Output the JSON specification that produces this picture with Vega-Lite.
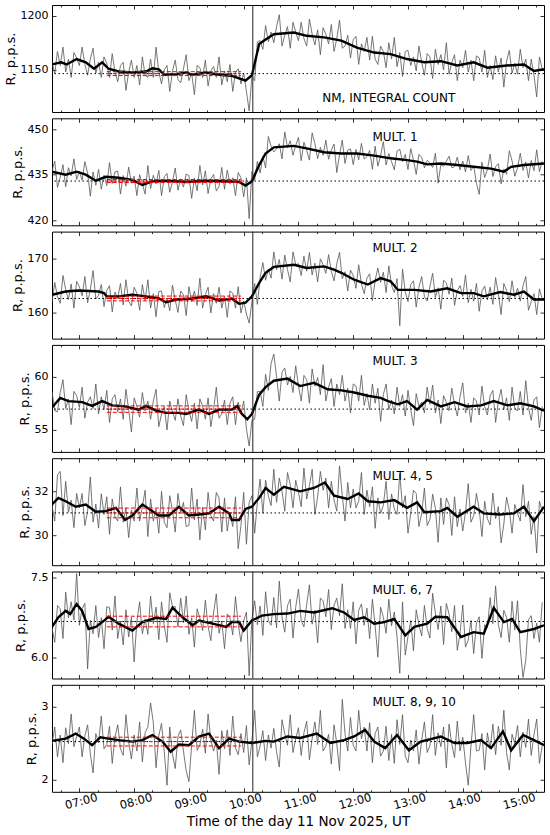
{
  "$schema": "https://vega.github.io/schema/vega-lite/v6.json",
  "padding": {"left": 3, "top": 4, "right": 5, "bottom": 2},
  "spacing": 4.3,
  "config": {
    "font": "DejaVu Sans",
    "view": {"stroke": "black", "strokeWidth": 1},
    "axis": {
      "domain": false, "grid": false, "ticks": true,
      "tickColor": "black", "tickSize": -4, "tickWidth": 0.8,
      "labelFont": "DejaVu Sans", "labelFontSize": 11, "labelColor": "black", "labelPadding": 8,
      "titleFont": "DejaVu Sans", "titleFontSize": 13, "titleFontWeight": "normal", "titleColor": "black", "titlePadding": 3
    },
    "text": {"font": "DejaVu Sans", "color": "black"}
  },
  "datasets": {
    "raw": [
      {"t":390,"a":1157,"b":436.2,"c":162.0,"d":58.6,"e":31.35,"f":6.55,"g":2.48},
      {"t":393,"a":1147,"b":439.5,"c":165.6,"d":56.8,"e":30.65,"f":6.28,"g":2.72},
      {"t":396,"a":1167,"b":430.8,"c":162.9,"d":56.7,"e":32.75,"f":6.97,"g":2.31},
      {"t":399,"a":1154,"b":434.1,"c":161.7,"d":58.5,"e":32.9,"f":6.91,"g":2.61},
      {"t":402,"a":1171,"b":438.3,"c":166.9,"d":59.7,"e":30.9,"f":6.35,"g":2.23},
      {"t":405,"a":1148,"b":431,"c":164.3,"d":57,"e":32.45,"f":7.22,"g":2.71},
      {"t":408,"a":1160,"b":437.3,"c":162.4,"d":57.9,"e":31.05,"f":6.74,"g":2.49},
      {"t":411,"a":1143,"b":434.6,"c":165.3,"d":55.5,"e":31.6,"f":7.04,"g":2.9},
      {"t":414,"a":1166,"b":440.2,"c":160.8,"d":58.6,"e":30.35,"f":6.7,"g":2.45},
      {"t":417,"a":1161,"b":433.4,"c":165.8,"d":58.2,"e":31.9,"f":7.57,"g":2.59},
      {"t":420,"a":1154,"b":436.1,"c":164.8,"d":57.1,"e":31.25,"f":6.6,"g":2.72},
      {"t":423,"a":1171,"b":433.2,"c":163.1,"d":59,"e":31.9,"f":6.91,"g":2.31},
      {"t":426,"a":1155,"b":439.3,"c":166.7,"d":56.1,"e":30.45,"f":7.01,"g":2.6},
      {"t":429,"a":1145,"b":435.6,"c":161.8,"d":57.6,"e":31.1,"f":5.78,"g":2.75},
      {"t":432,"a":1160,"b":427.9,"c":164.3,"d":58.1,"e":32.65,"f":6.69,"g":2.35},
      {"t":435,"a":1170,"b":435.9,"c":167.8,"d":57,"e":30.6,"f":6.44,"g":2.09},
      {"t":438,"a":1147,"b":431.5,"c":162.5,"d":59.3,"e":31.42,"f":6.97,"g":2.63},
      {"t":441,"a":1157,"b":436.7,"c":163.2,"d":56.5,"e":30.33,"f":6.37,"g":2.5},
      {"t":444,"a":1143,"b":430.2,"c":165.2,"d":58.1,"e":31.89,"f":6.74,"g":2.87},
      {"t":447,"a":1162,"b":434.8,"c":161.1,"d":56.9,"e":30.95,"f":6.16,"g":2.42},
      {"t":450,"a":1156,"b":431.4,"c":164.1,"d":58.7,"e":31.75,"f":6.95,"g":2.48},
      {"t":453,"a":1143,"b":439,"c":165,"d":55.7,"e":30.05,"f":6.93,"g":2.73},
      {"t":456,"a":1165,"b":432.1,"c":160.1,"d":57.9,"e":31.65,"f":6.51,"g":2.22},
      {"t":459,"a":1148,"b":435.9,"c":163.8,"d":58.3,"e":30.85,"f":7.15,"g":2.58},
      {"t":462,"a":1139,"b":436.2,"c":162.6,"d":56.7,"e":30.65,"f":6.35,"g":2.75},
      {"t":465,"a":1154,"b":428.6,"c":165.4,"d":57.9,"e":32.2,"f":6.68,"g":2.42},
      {"t":468,"a":1157,"b":434.7,"c":161.4,"d":56,"e":30.6,"f":6.23,"g":2.33},
      {"t":471,"a":1131,"b":431.2,"c":166.1,"d":58.8,"e":31.25,"f":6.89,"g":2.89},
      {"t":474,"a":1148,"b":437.5,"c":162.1,"d":56.9,"e":29.9,"f":6.38,"g":2.51},
      {"t":477,"a":1159,"b":432.2,"c":161.2,"d":54.8,"e":31.15,"f":6.75,"g":2.28},
      {"t":480,"a":1143,"b":434.5,"c":164.7,"d":58,"e":30.65,"f":5.91,"g":2.61},
      {"t":483,"a":1154,"b":428.1,"c":163.6,"d":57.2,"e":32.15,"f":6.68,"g":2.39},
      {"t":486,"a":1136,"b":435,"c":160.4,"d":56.2,"e":30.65,"f":7.04,"g":2.79},
      {"t":489,"a":1162,"b":432,"c":165.2,"d":58.5,"e":31.3,"f":6.44,"g":2.24},
      {"t":492,"a":1145,"b":428.6,"c":162.2,"d":56.8,"e":32.05,"f":6.72,"g":2.64},
      {"t":495,"a":1143,"b":438,"c":166.1,"d":57.7,"e":29.95,"f":6.43,"g":2.72},
      {"t":498,"a":1160,"b":430.4,"c":160.8,"d":56,"e":31.65,"f":7.15,"g":3.05},
      {"t":501,"a":1143,"b":434.8,"c":163.5,"d":57.7,"e":30.65,"f":6.63,"g":2.78},
      {"t":504,"a":1171,"b":432,"c":159.2,"d":58.8,"e":31.2,"f":6.94,"g":2.16},
      {"t":507,"a":1148,"b":436.4,"c":163.9,"d":55.3,"e":30.1,"f":6.33,"g":2.6},
      {"t":510,"a":1137,"b":428.1,"c":164,"d":56.5,"e":32,"f":7.04,"g":2.77},
      {"t":513,"a":1150,"b":434.3,"c":160.9,"d":57.2,"e":30.6,"f":6.59,"g":2.38},
      {"t":516,"a":1154,"b":435.4,"c":162.6,"d":55,"e":30.35,"f":6.28,"g":1.92},
      {"t":519,"a":1130,"b":429.2,"c":160.3,"d":57.7,"e":31.8,"f":7.21,"g":2.72},
      {"t":522,"a":1149,"b":432.7,"c":165.1,"d":56.7,"e":31.1,"f":6.95,"g":2.35},
      {"t":525,"a":1159,"b":437.2,"c":162.3,"d":55.9,"e":30.15,"f":6.95,"g":2.15},
      {"t":528,"a":1141,"b":429.9,"c":160,"d":57.9,"e":31.9,"f":6.57,"g":2.59},
      {"t":531,"a":1138,"b":433.6,"c":164,"d":56.3,"e":31.05,"f":7.11,"g":2.68},
      {"t":534,"a":1151,"b":430.9,"c":163.3,"d":55.4,"e":31.5,"f":6.65,"g":2.39},
      {"t":537,"a":1164,"b":435.2,"c":159.4,"d":58.3,"e":30.4,"f":7.15,"g":2.12},
      {"t":540,"a":1140,"b":434.7,"c":164.8,"d":56.8,"e":30.45,"f":6.43,"g":1.97},
      {"t":543,"a":1147,"b":427.2,"c":162,"d":55.8,"e":32.15,"f":6.74,"g":2.47},
      {"t":546,"a":1127,"b":433.9,"c":164,"d":57.5,"e":30.7,"f":6.19,"g":2.95},
      {"t":549,"a":1154,"b":429.7,"c":161.3,"d":55.1,"e":31.65,"f":6.91,"g":2.4},
      {"t":552,"a":1152,"b":438,"c":166.4,"d":57.9,"e":29.8,"f":6.73,"g":2.47},
      {"t":555,"a":1143,"b":431.6,"c":160.8,"d":57.2,"e":31.27,"f":6.5,"g":2.69},
      {"t":558,"a":1159,"b":436.3,"c":163.3,"d":56,"e":30.25,"f":7.07,"g":2.36},
      {"t":561,"a":1135,"b":428.8,"c":164.7,"d":58,"e":31.95,"f":6.58,"g":2.9},
      {"t":564,"a":1149,"b":433.6,"c":159.9,"d":55.3,"e":30.9,"f":6.31,"g":2.54},
      {"t":567,"a":1153,"b":435.1,"c":163.5,"d":56.9,"e":30.65,"f":6.83,"g":2.39},
      {"t":570,"a":1143,"b":429.6,"c":161.7,"d":59,"e":31.95,"f":7.19,"g":2.54},
      {"t":573,"a":1162,"b":431.1,"c":164.7,"d":56.1,"e":31.7,"f":6.45,"g":2.07},
      {"t":576,"a":1136,"b":437.4,"c":160.8,"d":56.5,"e":30.15,"f":6.68,"g":2.67},
      {"t":579,"a":1149,"b":430.2,"c":163,"d":57.8,"e":31.7,"f":6.16,"g":2.42},
      {"t":582,"a":1139,"b":436.5,"c":159.1,"d":55.5,"e":30.2,"f":6.81,"g":2.68},
      {"t":585,"a":1155,"b":432,"c":164,"d":57.5,"e":31.05,"f":6.74,"g":2.33},
      {"t":588,"a":1130,"b":434,"c":163.6,"d":58.1,"e":30.4,"f":6.42,"g":2.87},
      {"t":591,"a":1148,"b":428.1,"c":160.8,"d":55.5,"e":31.75,"f":7.14,"g":2.43},
      {"t":594,"a":1151,"b":435.7,"c":164.8,"d":57.6,"e":29.4,"f":6.62,"g":2.34},
      {"t":597,"a":1137,"b":434,"c":159.9,"d":56.5,"e":30.45,"f":6.29,"g":2.63},
      {"t":600,"a":1147,"b":427.7,"c":162.1,"d":57.7,"e":31.95,"f":6.68,"g":2.37},
      {"t":603,"a":1130,"b":434,"c":159.7,"d":55.1,"e":29.6,"f":6.85,"g":2.74},
      {"t":606,"a":1112,"b":420.5,"c":158,"d":53.5,"e":31.5,"f":5.65,"g":2.2},
      {"t":609,"a":1144,"b":436,"c":162,"d":55.9,"e":31.8,"f":6.71,"g":2.53},
      {"t":612,"a":1140,"b":433.2,"c":165.4,"d":56,"e":30.1,"f":7.06,"g":2.95},
      {"t":615,"a":1176,"b":439.4,"c":161.5,"d":58.6,"e":31.5,"f":6.61,"g":2.31},
      {"t":618,"a":1177,"b":435.6,"c":166.5,"d":58.6,"e":32.55,"f":6.96,"g":2.46},
      {"t":621,"a":1169,"b":441.1,"c":169.3,"d":57.2,"e":31,"f":6.41,"g":2.67},
      {"t":624,"a":1191,"b":437.2,"c":166,"d":60.2,"e":32.5,"f":7.23,"g":2.26},
      {"t":627,"a":1176,"b":447.6,"c":168.1,"d":58.7,"e":31.8,"f":6.69,"g":2.61},
      {"t":630,"a":1185,"b":444.4,"c":166.4,"d":61.2,"e":31.35,"f":6.6,"g":2.43},
      {"t":633,"a":1175,"b":442.5,"c":171.3,"d":62.1,"e":33,"f":7.12,"g":2.7},
      {"t":636,"a":1190,"b":443.4,"c":168,"d":60,"e":31.5,"f":6.55,"g":2.38},
      {"t":639,"a":1201,"b":445.2,"c":169.9,"d":57.7,"e":32.6,"f":7.43,"g":2.17},
      {"t":642,"a":1172,"b":440.2,"c":166.2,"d":60.4,"e":32,"f":6.75,"g":2.82},
      {"t":645,"a":1182,"b":449.1,"c":170.7,"d":60.8,"e":31.1,"f":6.47,"g":2.63},
      {"t":648,"a":1190,"b":443.9,"c":168,"d":59.2,"e":32.85,"f":6.97,"g":2.47},
      {"t":651,"a":1170,"b":446.2,"c":165.7,"d":60,"e":32.3,"f":7.09,"g":2.89},
      {"t":654,"a":1194,"b":441.4,"c":171.3,"d":58.5,"e":31.25,"f":6.36,"g":2.37},
      {"t":657,"a":1185,"b":444.6,"c":168.9,"d":61,"e":32.5,"f":6.94,"g":2.56},
      {"t":660,"a":1177,"b":447.3,"c":169.1,"d":59.1,"e":31.95,"f":7.28,"g":2.71},
      {"t":663,"a":1194,"b":439.6,"c":166.9,"d":57.7,"e":31.3,"f":6.69,"g":2.33},
      {"t":666,"a":1179,"b":445.7,"c":170.5,"d":60.1,"e":33.05,"f":6.57,"g":2.64},
      {"t":669,"a":1172,"b":443,"c":167.7,"d":59.7,"e":31.65,"f":6.99,"g":2.8},
      {"t":672,"a":1197,"b":439.8,"c":171.2,"d":57.5,"e":32.25,"f":7.36,"g":2.27},
      {"t":675,"a":1183,"b":448.8,"c":167,"d":60.7,"e":33,"f":6.62,"g":2.56},
      {"t":678,"a":1173,"b":445.3,"c":169.2,"d":59.1,"e":30.95,"f":6.88,"g":2.79},
      {"t":681,"a":1187,"b":440.3,"c":165.7,"d":59.9,"e":31.75,"f":6.27,"g":2.48},
      {"t":684,"a":1164,"b":444,"c":170,"d":58.3,"e":32.9,"f":7.11,"g":2.95},
      {"t":687,"a":1189,"b":441.4,"c":168.9,"d":61.1,"e":32.05,"f":7.06,"g":2.39},
      {"t":690,"a":1183,"b":446.4,"c":167.3,"d":57.7,"e":32.6,"f":6.76,"g":2.46},
      {"t":693,"a":1174,"b":440.1,"c":170.8,"d":59,"e":31.25,"f":7.27,"g":2.62},
      {"t":696,"a":1192,"b":443.1,"c":167.7,"d":59.8,"e":32.45,"f":6.52,"g":2.21},
      {"t":699,"a":1167,"b":445.1,"c":165.9,"d":57.2,"e":31.6,"f":6.98,"g":2.75},
      {"t":702,"a":1179,"b":435.7,"c":169.1,"d":59.3,"e":31.1,"f":7.11,"g":2.49},
      {"t":705,"a":1196,"b":441.6,"c":171.2,"d":58.3,"e":33.15,"f":6.78,"g":2.12},
      {"t":708,"a":1170,"b":446.4,"c":166.3,"d":60.1,"e":31.8,"f":7.38,"g":3.1},
      {"t":711,"a":1172,"b":438.7,"c":167.6,"d":57.7,"e":30.65,"f":6.54,"g":2.63},
      {"t":714,"a":1182,"b":443.1,"c":164,"d":58.9,"e":32.4,"f":6.89,"g":2.39},
      {"t":717,"a":1161,"b":443.5,"c":167.9,"d":56.6,"e":31.25,"f":6.54,"g":2.85},
      {"t":720,"a":1178,"b":438.3,"c":166.9,"d":59.3,"e":32.1,"f":7.04,"g":2.47},
      {"t":723,"a":1181,"b":443.3,"c":164.5,"d":59.1,"e":31.25,"f":6.25,"g":2.39},
      {"t":726,"a":1155,"b":439.9,"c":168.9,"d":57.7,"e":31.55,"f":6.88,"g":2.95},
      {"t":729,"a":1174,"b":445.3,"c":165.3,"d":60.1,"e":32.85,"f":7,"g":2.56},
      {"t":732,"a":1167,"b":440.2,"c":163.5,"d":57.3,"e":30.95,"f":6.6,"g":2.72},
      {"t":735,"a":1180,"b":440.9,"c":166.4,"d":58.4,"e":32.05,"f":6.92,"g":2.39},
      {"t":738,"a":1159,"b":443,"c":167.2,"d":56.9,"e":31.3,"f":6.35,"g":2.78},
      {"t":741,"a":1181,"b":436.8,"c":162.2,"d":59.3,"e":32.2,"f":7.09,"g":2.23},
      {"t":744,"a":1160,"b":444.4,"c":166,"d":57.5,"e":30.32,"f":6.59,"g":2.63},
      {"t":747,"a":1155,"b":437.8,"c":168.3,"d":58.9,"e":31.7,"f":6,"g":2.72},
      {"t":750,"a":1172,"b":441.3,"c":165.6,"d":55.8,"e":31,"f":6.94,"g":2.32},
      {"t":753,"a":1167,"b":445.9,"c":167.5,"d":58.3,"e":31.37,"f":6.75,"g":2.39},
      {"t":756,"a":1152,"b":438.2,"c":163.7,"d":59.3,"e":32.45,"f":6.45,"g":2.73},
      {"t":759,"a":1175,"b":442,"c":168.7,"d":56.9,"e":30.72,"f":7.09,"g":2.26},
      {"t":762,"a":1160,"b":439.3,"c":165,"d":57.8,"e":31.88,"f":6.59,"g":2.62},
      {"t":765,"a":1180,"b":436.6,"c":163.7,"d":56.5,"e":31.2,"f":6.85,"g":2.22},
      {"t":768,"a":1153,"b":442.8,"c":166.3,"d":59,"e":30.95,"f":6.38,"g":2.82},
      {"t":771,"a":1166,"b":443.4,"c":157.5,"d":57.2,"e":32.8,"f":5.7,"g":2.48},
      {"t":774,"a":1144,"b":439.3,"c":168.1,"d":58.3,"e":31.25,"f":7.04,"g":2.89},
      {"t":777,"a":1167,"b":441.7,"c":163.8,"d":56.3,"e":31.8,"f":6.04,"g":2.32},
      {"t":780,"a":1168,"b":436.7,"c":162,"d":58.7,"e":30.1,"f":6.39,"g":2.23},
      {"t":783,"a":1154,"b":443.6,"c":165.2,"d":56.9,"e":31,"f":6.69,"g":2.54},
      {"t":786,"a":1162,"b":439.9,"c":165.9,"d":55.4,"e":32.05,"f":6.12,"g":2.39},
      {"t":789,"a":1149,"b":435.1,"c":161,"d":58.4,"e":31.9,"f":6.89,"g":2.68},
      {"t":792,"a":1172,"b":441.7,"c":164.7,"d":57.2,"e":30.4,"f":6.61,"g":2.21},
      {"t":795,"a":1157,"b":440.7,"c":166.7,"d":57.6,"e":31,"f":6.4,"g":2.54},
      {"t":798,"a":1145,"b":437.3,"c":162.9,"d":56.6,"e":32.15,"f":6.97,"g":2.79},
      {"t":801,"a":1165,"b":439.7,"c":162.1,"d":59,"e":30.45,"f":6.54,"g":2.37},
      {"t":804,"a":1162,"b":438.9,"c":164.8,"d":57.4,"e":30.72,"f":6.36,"g":2.46},
      {"t":807,"a":1142,"b":437.4,"c":167.3,"d":59.2,"e":31.87,"f":7.2,"g":2.89},
      {"t":810,"a":1169,"b":442.1,"c":162.8,"d":56.6,"e":31.23,"f":6.83,"g":2.33},
      {"t":813,"a":1155,"b":432.2,"c":164.6,"d":57.8,"e":29.69,"f":6.52,"g":2.64},
      {"t":816,"a":1164,"b":438.3,"c":160.6,"d":55.6,"e":31.7,"f":6.96,"g":2.45},
      {"t":819,"a":1150,"b":437.7,"c":166,"d":58.2,"e":30.5,"f":6.24,"g":2.72},
      {"t":822,"a":1175,"b":439.4,"c":165.5,"d":57.6,"e":31.7,"f":7.01,"g":2.16},
      {"t":825,"a":1146,"b":441.1,"c":163.4,"d":56.8,"e":31.4,"f":6.81,"g":2.76},
      {"t":828,"a":1157,"b":437.3,"c":166.4,"d":58.9,"e":30,"f":6.48,"g":2.48},
      {"t":831,"a":1164,"b":437.6,"c":161.3,"d":57.4,"e":31.75,"f":6.97,"g":2.3},
      {"t":834,"a":1140,"b":440.8,"c":164,"d":56.3,"e":30.4,"f":6.13,"g":2.8},
      {"t":837,"a":1159,"b":436.6,"c":165,"d":58.1,"e":31.2,"f":6.44,"g":2.39},
      {"t":840,"a":1152,"b":439.5,"c":163,"d":59.4,"e":30.2,"f":6.98,"g":2.58},
      {"t":843,"a":1168,"b":435.9,"c":167,"d":56.6,"e":31.05,"f":6.19,"g":2.23},
      {"t":846,"a":1148,"b":441.3,"c":161.8,"d":57.5,"e":32.35,"f":6.32,"g":1.92},
      {"t":849,"a":1159,"b":436.4,"c":164.3,"d":55.7,"e":30.6,"f":6.69,"g":2.46},
      {"t":852,"a":1140,"b":437.8,"c":162.1,"d":58,"e":30.9,"f":6.07,"g":2.89},
      {"t":855,"a":1163,"b":432.2,"c":165.4,"d":57.7,"e":31.9,"f":6.64,"g":2.39},
      {"t":858,"a":1161,"b":428.5,"c":160.2,"d":56.4,"e":31.2,"f":6.76,"g":2.4},
      {"t":861,"a":1148,"b":439.1,"c":164,"d":59.1,"e":29.95,"f":5.98,"g":2.63},
      {"t":864,"a":1168,"b":434.1,"c":164.9,"d":57.2,"e":31.55,"f":6.61,"g":2.13},
      {"t":867,"a":1143,"b":436.7,"c":162.3,"d":56.4,"e":30.75,"f":6.55,"g":2.64},
      {"t":870,"a":1154,"b":441.8,"c":164.7,"d":58.2,"e":30.48,"f":7.12,"g":2.42},
      {"t":873,"a":1141,"b":434.4,"c":161.5,"d":58.7,"e":31.92,"f":6.63,"g":2.76},
      {"t":876,"a":1163,"b":437.7,"c":166.5,"d":55.7,"e":30.76,"f":7.34,"g":2.34},
      {"t":879,"a":1148,"b":438.6,"c":163.5,"d":57.7,"e":31.3,"f":6.61,"g":2.73},
      {"t":882,"a":1161,"b":432,"c":159.6,"d":58.8,"e":29.66,"f":6.37,"g":2.47},
      {"t":885,"a":1134,"b":436.9,"c":165.4,"d":56.9,"e":30.52,"f":6.88,"g":2.95},
      {"t":888,"a":1158,"b":435.1,"c":164.1,"d":58,"e":31.73,"f":6.75,"g":2.37},
      {"t":891,"a":1168,"b":442.9,"c":162,"d":55.9,"e":31.14,"f":6.28,"g":2.13},
      {"t":894,"a":1147,"b":439.6,"c":165.9,"d":59,"e":30.1,"f":7.05,"g":2.62},
      {"t":897,"a":1156,"b":434.5,"c":162.8,"d":57,"e":31.4,"f":6.51,"g":2.49},
      {"t":900,"a":1146,"b":437.2,"c":164.5,"d":56.8,"e":31,"f":7.06,"g":2.74},
      {"t":903,"a":1169,"b":442.1,"c":162.1,"d":58.6,"e":30.65,"f":6.16,"g":2.31},
      {"t":906,"a":1152,"b":436.4,"c":165,"d":56.4,"e":32.3,"f":5.62,"g":2.65},
      {"t":909,"a":1160,"b":439.2,"c":166.7,"d":59.6,"e":30.85,"f":5.94,"g":2.44},
      {"t":912,"a":1140,"b":433.9,"c":160.4,"d":57.1,"e":31.55,"f":6.7,"g":2.83},
      {"t":915,"a":1160,"b":439.7,"c":162,"d":55.9,"e":30.05,"f":6.78,"g":2.33},
      {"t":918,"a":1145,"b":436.3,"c":163.5,"d":57.8,"e":30.85,"f":6.35,"g":2.61},
      {"t":921,"a":1125,"b":443.2,"c":159.6,"d":58.1,"e":29.2,"f":6.64,"g":2.83},
      {"t":924,"a":1162,"b":436,"c":164.4,"d":55.2,"e":31.55,"f":6.28,"g":2.22},
      {"t":927,"a":1151,"b":439.4,"c":162.5,"d":57.2,"e":31.1,"f":7.03,"g":2.46}
    ],
    "smooth": [
      {"p":1,"t":390,"v":1155},{"p":1,"t":400,"v":1157},{"p":1,"t":406,"v":1155},{"p":1,"t":417,"v":1160},{"p":1,"t":427,"v":1157},{"p":1,"t":436,"v":1151},{"p":1,"t":445,"v":1157},{"p":1,"t":452,"v":1151},{"p":1,"t":463,"v":1148.5},{"p":1,"t":478,"v":1147.5},{"p":1,"t":493,"v":1148.5},{"p":1,"t":500,"v":1151.5},{"p":1,"t":507,"v":1150.5},{"p":1,"t":513,"v":1145.5},{"p":1,"t":526,"v":1146},{"p":1,"t":537,"v":1147.5},{"p":1,"t":543,"v":1145.5},{"p":1,"t":559,"v":1147.5},{"p":1,"t":573,"v":1145.5},{"p":1,"t":587,"v":1144.5},{"p":1,"t":602,"v":1140},{"p":1,"t":609,"v":1145},{"p":1,"t":617,"v":1174},{"p":1,"t":624,"v":1178},{"p":1,"t":633,"v":1183},{"p":1,"t":655,"v":1184.5},{"p":1,"t":669,"v":1181.5},{"p":1,"t":688,"v":1180},{"p":1,"t":707,"v":1177},{"p":1,"t":724,"v":1170.5},{"p":1,"t":743,"v":1166},{"p":1,"t":761,"v":1164.5},{"p":1,"t":779,"v":1160},{"p":1,"t":798,"v":1157},{"p":1,"t":816,"v":1158},{"p":1,"t":834,"v":1154},{"p":1,"t":852,"v":1157},{"p":1,"t":867,"v":1152},{"p":1,"t":888,"v":1154},{"p":1,"t":907,"v":1155},{"p":1,"t":918,"v":1149},{"p":1,"t":929,"v":1150.5},
      {"p":2,"t":390,"v":436},{"p":2,"t":405,"v":435},{"p":2,"t":417,"v":436},{"p":2,"t":427,"v":435},{"p":2,"t":438,"v":433},{"p":2,"t":449,"v":434.3},{"p":2,"t":463,"v":434},{"p":2,"t":478,"v":433.3},{"p":2,"t":489,"v":431.6},{"p":2,"t":500,"v":432.8},{"p":2,"t":515,"v":433},{"p":2,"t":537,"v":432.6},{"p":2,"t":559,"v":433},{"p":2,"t":581,"v":432.8},{"p":2,"t":595,"v":432.6},{"p":2,"t":602,"v":431.4},{"p":2,"t":609,"v":432.8},{"p":2,"t":617,"v":438.2},{"p":2,"t":624,"v":442},{"p":2,"t":633,"v":444},{"p":2,"t":655,"v":444.5},{"p":2,"t":669,"v":443.7},{"p":2,"t":688,"v":442.4},{"p":2,"t":707,"v":442},{"p":2,"t":724,"v":442},{"p":2,"t":743,"v":441.3},{"p":2,"t":761,"v":440.4},{"p":2,"t":779,"v":439.8},{"p":2,"t":790,"v":439.3},{"p":2,"t":801,"v":438.4},{"p":2,"t":816,"v":438.7},{"p":2,"t":834,"v":438.2},{"p":2,"t":852,"v":437.6},{"p":2,"t":871,"v":437},{"p":2,"t":885,"v":436},{"p":2,"t":893,"v":437.6},{"p":2,"t":907,"v":438.2},{"p":2,"t":929,"v":438.7},
      {"p":3,"t":390,"v":163.3},{"p":3,"t":405,"v":163.9},{"p":3,"t":419,"v":164.1},{"p":3,"t":441,"v":163.9},{"p":3,"t":447,"v":163.6},{"p":3,"t":450,"v":163},{"p":3,"t":463,"v":163},{"p":3,"t":478,"v":163.3},{"p":3,"t":493,"v":163},{"p":3,"t":507,"v":162.6},{"p":3,"t":515,"v":161.9},{"p":3,"t":526,"v":162.4},{"p":3,"t":544,"v":162.6},{"p":3,"t":559,"v":163},{"p":3,"t":573,"v":162.2},{"p":3,"t":587,"v":162.6},{"p":3,"t":595,"v":161.6},{"p":3,"t":602,"v":161.8},{"p":3,"t":609,"v":163},{"p":3,"t":617,"v":165.5},{"p":3,"t":624,"v":167.4},{"p":3,"t":633,"v":168.5},{"p":3,"t":655,"v":168.9},{"p":3,"t":669,"v":168.3},{"p":3,"t":688,"v":168.6},{"p":3,"t":699,"v":168},{"p":3,"t":707,"v":167.4},{"p":3,"t":721,"v":166.1},{"p":3,"t":736,"v":165.2},{"p":3,"t":750,"v":166.4},{"p":3,"t":761,"v":165.8},{"p":3,"t":769,"v":164.2},{"p":3,"t":787,"v":164.2},{"p":3,"t":805,"v":163.9},{"p":3,"t":823,"v":164.5},{"p":3,"t":838,"v":163.6},{"p":3,"t":852,"v":163.6},{"p":3,"t":863,"v":163},{"p":3,"t":881,"v":163.8},{"p":3,"t":896,"v":163.3},{"p":3,"t":907,"v":163.9},{"p":3,"t":918,"v":162.4},{"p":3,"t":929,"v":162.4},
      {"p":4,"t":390,"v":57.1},{"p":4,"t":399,"v":58},{"p":4,"t":408,"v":57.7},{"p":4,"t":423,"v":57.6},{"p":4,"t":434,"v":57.25},{"p":4,"t":445,"v":57.7},{"p":4,"t":456,"v":57.3},{"p":4,"t":470,"v":57.2},{"p":4,"t":485,"v":56.9},{"p":4,"t":493,"v":57.25},{"p":4,"t":504,"v":56.8},{"p":4,"t":515,"v":56.6},{"p":4,"t":529,"v":56.6},{"p":4,"t":537,"v":56.5},{"p":4,"t":551,"v":56.9},{"p":4,"t":562,"v":56.5},{"p":4,"t":573,"v":56.9},{"p":4,"t":587,"v":56.9},{"p":4,"t":593,"v":57.25},{"p":4,"t":598,"v":56.5},{"p":4,"t":604,"v":56},{"p":4,"t":609,"v":56.5},{"p":4,"t":617,"v":58.3},{"p":4,"t":624,"v":59},{"p":4,"t":633,"v":59.6},{"p":4,"t":648,"v":59.8},{"p":4,"t":662,"v":59.1},{"p":4,"t":677,"v":59.4},{"p":4,"t":692,"v":58.8},{"p":4,"t":707,"v":58.7},{"p":4,"t":721,"v":58.5},{"p":4,"t":736,"v":58.2},{"p":4,"t":750,"v":58},{"p":4,"t":758,"v":57.7},{"p":4,"t":769,"v":57.4},{"p":4,"t":779,"v":57.7},{"p":4,"t":790,"v":56.9},{"p":4,"t":801,"v":57.8},{"p":4,"t":816,"v":57.2},{"p":4,"t":831,"v":57.6},{"p":4,"t":845,"v":57.2},{"p":4,"t":860,"v":57.3},{"p":4,"t":874,"v":57.7},{"p":4,"t":889,"v":57.3},{"p":4,"t":903,"v":57.5},{"p":4,"t":918,"v":57.2},{"p":4,"t":929,"v":56.8},
      {"p":5,"t":390,"v":31.4},{"p":5,"t":397,"v":31.7},{"p":5,"t":405,"v":31.55},{"p":5,"t":416,"v":31.3},{"p":5,"t":427,"v":31.4},{"p":5,"t":438,"v":31.07},{"p":5,"t":449,"v":31.1},{"p":5,"t":460,"v":31.25},{"p":5,"t":470,"v":30.7},{"p":5,"t":478,"v":30.9},{"p":5,"t":489,"v":31.4},{"p":5,"t":500,"v":31.1},{"p":5,"t":507,"v":30.9},{"p":5,"t":518,"v":30.9},{"p":5,"t":529,"v":31.3},{"p":5,"t":540,"v":30.9},{"p":5,"t":551,"v":30.95},{"p":5,"t":562,"v":31},{"p":5,"t":573,"v":31.3},{"p":5,"t":584,"v":31},{"p":5,"t":587,"v":30.7},{"p":5,"t":595,"v":30.7},{"p":5,"t":602,"v":31.2},{"p":5,"t":609,"v":31.3},{"p":5,"t":617,"v":31.7},{"p":5,"t":624,"v":32.15},{"p":5,"t":633,"v":31.85},{"p":5,"t":644,"v":32.2},{"p":5,"t":662,"v":32},{"p":5,"t":677,"v":32.15},{"p":5,"t":689,"v":32.4},{"p":5,"t":699,"v":31.8},{"p":5,"t":714,"v":31.65},{"p":5,"t":726,"v":31.9},{"p":5,"t":736,"v":31.55},{"p":5,"t":750,"v":31.5},{"p":5,"t":765,"v":31.6},{"p":5,"t":779,"v":31.25},{"p":5,"t":790,"v":31.5},{"p":5,"t":798,"v":31.05},{"p":5,"t":816,"v":31.1},{"p":5,"t":823,"v":31.25},{"p":5,"t":834,"v":30.85},{"p":5,"t":852,"v":31.3},{"p":5,"t":863,"v":31},{"p":5,"t":881,"v":30.95},{"p":5,"t":896,"v":31},{"p":5,"t":907,"v":31.3},{"p":5,"t":918,"v":30.65},{"p":5,"t":929,"v":31.3},
      {"p":6,"t":390,"v":6.57},{"p":6,"t":397,"v":6.75},{"p":6,"t":405,"v":6.87},{"p":6,"t":410,"v":6.81},{"p":6,"t":417,"v":7},{"p":6,"t":423,"v":6.87},{"p":6,"t":430,"v":6.53},{"p":6,"t":438,"v":6.57},{"p":6,"t":445,"v":6.66},{"p":6,"t":452,"v":6.76},{"p":6,"t":463,"v":6.63},{"p":6,"t":478,"v":6.5},{"p":6,"t":489,"v":6.66},{"p":6,"t":504,"v":6.74},{"p":6,"t":515,"v":6.72},{"p":6,"t":522,"v":6.93},{"p":6,"t":533,"v":6.75},{"p":6,"t":544,"v":6.6},{"p":6,"t":551,"v":6.69},{"p":6,"t":566,"v":6.63},{"p":6,"t":581,"v":6.57},{"p":6,"t":587,"v":6.66},{"p":6,"t":595,"v":6.66},{"p":6,"t":600,"v":6.5},{"p":6,"t":609,"v":6.69},{"p":6,"t":620,"v":6.78},{"p":6,"t":633,"v":6.81},{"p":6,"t":648,"v":6.82},{"p":6,"t":662,"v":6.87},{"p":6,"t":677,"v":6.84},{"p":6,"t":697,"v":6.92},{"p":6,"t":710,"v":6.84},{"p":6,"t":721,"v":6.7},{"p":6,"t":732,"v":6.75},{"p":6,"t":743,"v":6.63},{"p":6,"t":754,"v":6.66},{"p":6,"t":765,"v":6.72},{"p":6,"t":777,"v":6.41},{"p":6,"t":787,"v":6.57},{"p":6,"t":801,"v":6.63},{"p":6,"t":810,"v":6.76},{"p":6,"t":823,"v":6.75},{"p":6,"t":838,"v":6.38},{"p":6,"t":852,"v":6.47},{"p":6,"t":863,"v":6.44},{"p":6,"t":874,"v":6.93},{"p":6,"t":885,"v":6.66},{"p":6,"t":894,"v":6.72},{"p":6,"t":903,"v":6.47},{"p":6,"t":918,"v":6.53},{"p":6,"t":929,"v":6.6},
      {"p":7,"t":390,"v":2.53},{"p":7,"t":405,"v":2.56},{"p":7,"t":416,"v":2.63},{"p":7,"t":425,"v":2.56},{"p":7,"t":434,"v":2.47},{"p":7,"t":443,"v":2.58},{"p":7,"t":452,"v":2.56},{"p":7,"t":463,"v":2.54},{"p":7,"t":478,"v":2.52},{"p":7,"t":489,"v":2.54},{"p":7,"t":500,"v":2.61},{"p":7,"t":511,"v":2.52},{"p":7,"t":520,"v":2.38},{"p":7,"t":529,"v":2.48},{"p":7,"t":540,"v":2.47},{"p":7,"t":551,"v":2.59},{"p":7,"t":562,"v":2.63},{"p":7,"t":573,"v":2.43},{"p":7,"t":584,"v":2.56},{"p":7,"t":595,"v":2.52},{"p":7,"t":609,"v":2.5},{"p":7,"t":624,"v":2.53},{"p":7,"t":633,"v":2.52},{"p":7,"t":648,"v":2.59},{"p":7,"t":662,"v":2.57},{"p":7,"t":680,"v":2.63},{"p":7,"t":695,"v":2.5},{"p":7,"t":710,"v":2.54},{"p":7,"t":721,"v":2.59},{"p":7,"t":733,"v":2.68},{"p":7,"t":743,"v":2.52},{"p":7,"t":755,"v":2.43},{"p":7,"t":768,"v":2.61},{"p":7,"t":781,"v":2.4},{"p":7,"t":794,"v":2.52},{"p":7,"t":816,"v":2.59},{"p":7,"t":831,"v":2.5},{"p":7,"t":845,"v":2.5},{"p":7,"t":860,"v":2.54},{"p":7,"t":871,"v":2.43},{"p":7,"t":884,"v":2.66},{"p":7,"t":893,"v":2.4},{"p":7,"t":906,"v":2.61},{"p":7,"t":918,"v":2.54},{"p":7,"t":929,"v":2.47}
    ],
    "ref": [
      {"p":1,"k":"m","v":1146.5},{"p":1,"k":"u","v":1148.3},{"p":1,"k":"l","v":1144.7},
      {"p":2,"k":"m","v":432.9},{"p":2,"k":"u","v":433.4},{"p":2,"k":"l","v":432.4},
      {"p":3,"k":"m","v":162.6},{"p":3,"k":"u","v":163.05},{"p":3,"k":"l","v":162.15},
      {"p":4,"k":"m","v":56.95},{"p":4,"k":"u","v":57.25},{"p":4,"k":"l","v":56.65},
      {"p":5,"k":"m","v":31.02},{"p":5,"k":"u","v":31.24},{"p":5,"k":"l","v":30.8},
      {"p":6,"k":"m","v":6.67},{"p":6,"k":"u","v":6.77},{"p":6,"k":"l","v":6.57},
      {"p":7,"k":"m","v":2.52},{"p":7,"k":"u","v":2.58},{"p":7,"k":"l","v":2.46}
    ]
  },
  "vconcat": [
    {
      "width": 492, "height": 107,
      "layer": [
        {"data": {"name": "raw"}, "mark": {"type": "line", "color": "#555555", "strokeWidth": 0.8, "clip": true},
         "encoding": {
           "x": {"field": "t", "type": "quantitative", "scale": {"domain": [390, 929], "nice": false, "zero": false},
                 "axis": {"orient": "bottom", "values": [420,480,540,600,660,720,780,840,900], "labels": false, "title": null}},
           "y": {"field": "a", "type": "quantitative", "scale": {"domain": [1111, 1210], "nice": false, "zero": false},
                 "axis": {"orient": "left", "values": [1150, 1200], "format": "d", "title": "R, p.p.s."}}}},
        {"data": {"name": "smooth"}, "transform": [{"filter": "datum.p == 1"}],
         "mark": {"type": "line", "color": "black", "strokeWidth": 2.4, "clip": true},
         "encoding": {
           "x": {"field": "t", "type": "quantitative", "axis": {"orient": "top", "values": [420,480,540,600,660,720,780,840,900], "labels": false, "title": null}},
           "y": {"field": "v", "type": "quantitative", "axis": {"orient": "right", "values": [1150, 1200], "labels": false, "title": null}}}},
        {"data": {"name": "ref"}, "transform": [{"filter": "datum.p == 1 && datum.k == 'm'"}],
         "mark": {"type": "rule", "color": "black", "strokeWidth": 1, "strokeDash": [1.5, 2.5]},
         "encoding": {"y": {"field": "v", "type": "quantitative", "axis": null}}},
        {"data": {"name": "ref"}, "transform": [{"filter": "datum.p == 1"}],
         "mark": {"type": "rule", "color": "red", "strokeWidth": 1, "strokeDash": [4, 2]},
         "encoding": {
           "x": {"datum": 450, "axis": {"orient": "bottom", "values": [400,440,460,500,520,560,580,620,640,680,700,740,760,800,820,860,880,920], "labels": false, "title": null, "tickSize": -2}},
           "x2": {"datum": 597},
           "y": {"field": "v", "type": "quantitative", "axis": null}}},
        {"data": {"values": [{}]}, "mark": {"type": "rule", "color": "#222222", "strokeWidth": 1},
         "encoding": {"x": {"datum": 610, "axis": {"orient": "top", "values": [400,440,460,500,520,560,580,620,640,680,700,740,760,800,820,860,880,920], "labels": false, "title": null, "tickSize": -2}}}},
        {"data": {"values": [{}]}, "mark": {"type": "text", "align": "left", "baseline": "middle", "fontSize": 12},
         "encoding": {"x": {"datum": 686, "axis": null}, "y": {"datum": 1124, "axis": null}, "text": {"value": "NM, INTEGRAL COUNT"}}}
      ]
    },
    {
      "width": 492, "height": 107,
      "layer": [
        {"data": {"name": "raw"}, "mark": {"type": "line", "color": "#555555", "strokeWidth": 0.8, "clip": true},
         "encoding": {
           "x": {"field": "t", "type": "quantitative", "scale": {"domain": [390, 929], "nice": false, "zero": false},
                 "axis": {"orient": "bottom", "values": [420,480,540,600,660,720,780,840,900], "labels": false, "title": null}},
           "y": {"field": "b", "type": "quantitative", "scale": {"domain": [418.3, 453.6], "nice": false, "zero": false},
                 "axis": {"orient": "left", "values": [420, 435, 450], "format": "d", "title": "R, p.p.s."}}}},
        {"data": {"name": "smooth"}, "transform": [{"filter": "datum.p == 2"}],
         "mark": {"type": "line", "color": "black", "strokeWidth": 2.4, "clip": true},
         "encoding": {
           "x": {"field": "t", "type": "quantitative", "axis": {"orient": "top", "values": [420,480,540,600,660,720,780,840,900], "labels": false, "title": null}},
           "y": {"field": "v", "type": "quantitative", "axis": {"orient": "right", "values": [420, 435, 450], "labels": false, "title": null}}}},
        {"data": {"name": "ref"}, "transform": [{"filter": "datum.p == 2 && datum.k == 'm'"}],
         "mark": {"type": "rule", "color": "black", "strokeWidth": 1, "strokeDash": [1.5, 2.5]},
         "encoding": {"y": {"field": "v", "type": "quantitative", "axis": null}}},
        {"data": {"name": "ref"}, "transform": [{"filter": "datum.p == 2"}],
         "mark": {"type": "rule", "color": "red", "strokeWidth": 1, "strokeDash": [4, 2]},
         "encoding": {
           "x": {"datum": 450, "axis": {"orient": "bottom", "values": [400,440,460,500,520,560,580,620,640,680,700,740,760,800,820,860,880,920], "labels": false, "title": null, "tickSize": -2}},
           "x2": {"datum": 597},
           "y": {"field": "v", "type": "quantitative", "axis": null}}},
        {"data": {"values": [{}]}, "mark": {"type": "rule", "color": "#222222", "strokeWidth": 1},
         "encoding": {"x": {"datum": 610, "axis": {"orient": "top", "values": [400,440,460,500,520,560,580,620,640,680,700,740,760,800,820,860,880,920], "labels": false, "title": null, "tickSize": -2}}}},
        {"data": {"values": [{}]}, "mark": {"type": "text", "align": "left", "baseline": "middle", "fontSize": 12},
         "encoding": {"x": {"datum": 741, "axis": null}, "y": {"datum": 447.5, "axis": null}, "text": {"value": "MULT. 1"}}}
      ]
    },
    {
      "width": 492, "height": 107,
      "layer": [
        {"data": {"name": "raw"}, "mark": {"type": "line", "color": "#555555", "strokeWidth": 0.8, "clip": true},
         "encoding": {
           "x": {"field": "t", "type": "quantitative", "scale": {"domain": [390, 929], "nice": false, "zero": false},
                 "axis": {"orient": "bottom", "values": [420,480,540,600,660,720,780,840,900], "labels": false, "title": null}},
           "y": {"field": "c", "type": "quantitative", "scale": {"domain": [155.1, 175.1], "nice": false, "zero": false},
                 "axis": {"orient": "left", "values": [160, 170], "format": "d", "title": "R, p.p.s."}}}},
        {"data": {"name": "smooth"}, "transform": [{"filter": "datum.p == 3"}],
         "mark": {"type": "line", "color": "black", "strokeWidth": 2.4, "clip": true},
         "encoding": {
           "x": {"field": "t", "type": "quantitative", "axis": {"orient": "top", "values": [420,480,540,600,660,720,780,840,900], "labels": false, "title": null}},
           "y": {"field": "v", "type": "quantitative", "axis": {"orient": "right", "values": [160, 170], "labels": false, "title": null}}}},
        {"data": {"name": "ref"}, "transform": [{"filter": "datum.p == 3 && datum.k == 'm'"}],
         "mark": {"type": "rule", "color": "black", "strokeWidth": 1, "strokeDash": [1.5, 2.5]},
         "encoding": {"y": {"field": "v", "type": "quantitative", "axis": null}}},
        {"data": {"name": "ref"}, "transform": [{"filter": "datum.p == 3"}],
         "mark": {"type": "rule", "color": "red", "strokeWidth": 1, "strokeDash": [4, 2]},
         "encoding": {
           "x": {"datum": 450, "axis": {"orient": "bottom", "values": [400,440,460,500,520,560,580,620,640,680,700,740,760,800,820,860,880,920], "labels": false, "title": null, "tickSize": -2}},
           "x2": {"datum": 597},
           "y": {"field": "v", "type": "quantitative", "axis": null}}},
        {"data": {"values": [{}]}, "mark": {"type": "rule", "color": "#222222", "strokeWidth": 1},
         "encoding": {"x": {"datum": 610, "axis": {"orient": "top", "values": [400,440,460,500,520,560,580,620,640,680,700,740,760,800,820,860,880,920], "labels": false, "title": null, "tickSize": -2}}}},
        {"data": {"values": [{}]}, "mark": {"type": "text", "align": "left", "baseline": "middle", "fontSize": 12},
         "encoding": {"x": {"datum": 741, "axis": null}, "y": {"datum": 172.1, "axis": null}, "text": {"value": "MULT. 2"}}}
      ]
    },
    {
      "width": 492, "height": 107,
      "layer": [
        {"data": {"name": "raw"}, "mark": {"type": "line", "color": "#555555", "strokeWidth": 0.8, "clip": true},
         "encoding": {
           "x": {"field": "t", "type": "quantitative", "scale": {"domain": [390, 929], "nice": false, "zero": false},
                 "axis": {"orient": "bottom", "values": [420,480,540,600,660,720,780,840,900], "labels": false, "title": null}},
           "y": {"field": "d", "type": "quantitative", "scale": {"domain": [52.95, 62.95], "nice": false, "zero": false},
                 "axis": {"orient": "left", "values": [55, 60], "format": "d", "title": "R, p.p.s."}}}},
        {"data": {"name": "smooth"}, "transform": [{"filter": "datum.p == 4"}],
         "mark": {"type": "line", "color": "black", "strokeWidth": 2.4, "clip": true},
         "encoding": {
           "x": {"field": "t", "type": "quantitative", "axis": {"orient": "top", "values": [420,480,540,600,660,720,780,840,900], "labels": false, "title": null}},
           "y": {"field": "v", "type": "quantitative", "axis": {"orient": "right", "values": [55, 60], "labels": false, "title": null}}}},
        {"data": {"name": "ref"}, "transform": [{"filter": "datum.p == 4 && datum.k == 'm'"}],
         "mark": {"type": "rule", "color": "black", "strokeWidth": 1, "strokeDash": [1.5, 2.5]},
         "encoding": {"y": {"field": "v", "type": "quantitative", "axis": null}}},
        {"data": {"name": "ref"}, "transform": [{"filter": "datum.p == 4"}],
         "mark": {"type": "rule", "color": "red", "strokeWidth": 1, "strokeDash": [4, 2]},
         "encoding": {
           "x": {"datum": 450, "axis": {"orient": "bottom", "values": [400,440,460,500,520,560,580,620,640,680,700,740,760,800,820,860,880,920], "labels": false, "title": null, "tickSize": -2}},
           "x2": {"datum": 597},
           "y": {"field": "v", "type": "quantitative", "axis": null}}},
        {"data": {"values": [{}]}, "mark": {"type": "rule", "color": "#222222", "strokeWidth": 1},
         "encoding": {"x": {"datum": 610, "axis": {"orient": "top", "values": [400,440,460,500,520,560,580,620,640,680,700,740,760,800,820,860,880,920], "labels": false, "title": null, "tickSize": -2}}}},
        {"data": {"values": [{}]}, "mark": {"type": "text", "align": "left", "baseline": "middle", "fontSize": 12},
         "encoding": {"x": {"datum": 741, "axis": null}, "y": {"datum": 61.46, "axis": null}, "text": {"value": "MULT. 3"}}}
      ]
    },
    {
      "width": 492, "height": 107,
      "layer": [
        {"data": {"name": "raw"}, "mark": {"type": "line", "color": "#555555", "strokeWidth": 0.8, "clip": true},
         "encoding": {
           "x": {"field": "t", "type": "quantitative", "scale": {"domain": [390, 929], "nice": false, "zero": false},
                 "axis": {"orient": "bottom", "values": [420,480,540,600,660,720,780,840,900], "labels": false, "title": null}},
           "y": {"field": "e", "type": "quantitative", "scale": {"domain": [28.65, 33.5], "nice": false, "zero": false},
                 "axis": {"orient": "left", "values": [30, 32], "format": "d", "title": "R, p.p.s."}}}},
        {"data": {"name": "smooth"}, "transform": [{"filter": "datum.p == 5"}],
         "mark": {"type": "line", "color": "black", "strokeWidth": 2.4, "clip": true},
         "encoding": {
           "x": {"field": "t", "type": "quantitative", "axis": {"orient": "top", "values": [420,480,540,600,660,720,780,840,900], "labels": false, "title": null}},
           "y": {"field": "v", "type": "quantitative", "axis": {"orient": "right", "values": [30, 32], "labels": false, "title": null}}}},
        {"data": {"name": "ref"}, "transform": [{"filter": "datum.p == 5 && datum.k == 'm'"}],
         "mark": {"type": "rule", "color": "black", "strokeWidth": 1, "strokeDash": [1.5, 2.5]},
         "encoding": {"y": {"field": "v", "type": "quantitative", "axis": null}}},
        {"data": {"name": "ref"}, "transform": [{"filter": "datum.p == 5"}],
         "mark": {"type": "rule", "color": "red", "strokeWidth": 1, "strokeDash": [4, 2]},
         "encoding": {
           "x": {"datum": 450, "axis": {"orient": "bottom", "values": [400,440,460,500,520,560,580,620,640,680,700,740,760,800,820,860,880,920], "labels": false, "title": null, "tickSize": -2}},
           "x2": {"datum": 597},
           "y": {"field": "v", "type": "quantitative", "axis": null}}},
        {"data": {"values": [{}]}, "mark": {"type": "rule", "color": "#222222", "strokeWidth": 1},
         "encoding": {"x": {"datum": 610, "axis": {"orient": "top", "values": [400,440,460,500,520,560,580,620,640,680,700,740,760,800,820,860,880,920], "labels": false, "title": null, "tickSize": -2}}}},
        {"data": {"values": [{}]}, "mark": {"type": "text", "align": "left", "baseline": "middle", "fontSize": 12},
         "encoding": {"x": {"datum": 741, "axis": null}, "y": {"datum": 32.71, "axis": null}, "text": {"value": "MULT. 4, 5"}}}
      ]
    },
    {
      "width": 492, "height": 107,
      "layer": [
        {"data": {"name": "raw"}, "mark": {"type": "line", "color": "#555555", "strokeWidth": 0.8, "clip": true},
         "encoding": {
           "x": {"field": "t", "type": "quantitative", "scale": {"domain": [390, 929], "nice": false, "zero": false},
                 "axis": {"orient": "bottom", "values": [420,480,540,600,660,720,780,840,900], "labels": false, "title": null}},
           "y": {"field": "f", "type": "quantitative", "scale": {"domain": [5.6, 7.61], "nice": false, "zero": false},
                 "axis": {"orient": "left", "values": [6.0, 7.5], "format": ".1f", "title": "R, p.p.s."}}}},
        {"data": {"name": "smooth"}, "transform": [{"filter": "datum.p == 6"}],
         "mark": {"type": "line", "color": "black", "strokeWidth": 2.4, "clip": true},
         "encoding": {
           "x": {"field": "t", "type": "quantitative", "axis": {"orient": "top", "values": [420,480,540,600,660,720,780,840,900], "labels": false, "title": null}},
           "y": {"field": "v", "type": "quantitative", "axis": {"orient": "right", "values": [6.0, 7.5], "labels": false, "title": null}}}},
        {"data": {"name": "ref"}, "transform": [{"filter": "datum.p == 6 && datum.k == 'm'"}],
         "mark": {"type": "rule", "color": "black", "strokeWidth": 1, "strokeDash": [1.5, 2.5]},
         "encoding": {"y": {"field": "v", "type": "quantitative", "axis": null}}},
        {"data": {"name": "ref"}, "transform": [{"filter": "datum.p == 6"}],
         "mark": {"type": "rule", "color": "red", "strokeWidth": 1, "strokeDash": [4, 2]},
         "encoding": {
           "x": {"datum": 450, "axis": {"orient": "bottom", "values": [400,440,460,500,520,560,580,620,640,680,700,740,760,800,820,860,880,920], "labels": false, "title": null, "tickSize": -2}},
           "x2": {"datum": 597},
           "y": {"field": "v", "type": "quantitative", "axis": null}}},
        {"data": {"values": [{}]}, "mark": {"type": "rule", "color": "#222222", "strokeWidth": 1},
         "encoding": {"x": {"datum": 610, "axis": {"orient": "top", "values": [400,440,460,500,520,560,580,620,640,680,700,740,760,800,820,860,880,920], "labels": false, "title": null, "tickSize": -2}}}},
        {"data": {"values": [{}]}, "mark": {"type": "text", "align": "left", "baseline": "middle", "fontSize": 12},
         "encoding": {"x": {"datum": 741, "axis": null}, "y": {"datum": 7.27, "axis": null}, "text": {"value": "MULT. 6, 7"}}}
      ]
    },
    {
      "width": 492, "height": 107,
      "layer": [
        {"data": {"name": "raw"}, "mark": {"type": "line", "color": "#555555", "strokeWidth": 0.8, "clip": true},
         "encoding": {
           "x": {"field": "t", "type": "quantitative", "scale": {"domain": [390, 929], "nice": false, "zero": false},
                 "axis": {"orient": "bottom", "values": [420,480,540,600,660,720,780,840,900],
                          "labelExpr": "(datum.value < 600 ? '0' : '') + floor(datum.value / 60) + ':00'",
                          "labelAngle": -15, "labelAlign": "center", "labelBaseline": "top", "labelFontSize": 11.5,
                          "title": "Time of the day 11 Nov 2025,  UT", "titleFontSize": 13.5, "titlePadding": 3}},
           "y": {"field": "g", "type": "quantitative", "scale": {"domain": [1.83, 3.3], "nice": false, "zero": false},
                 "axis": {"orient": "left", "values": [2, 3], "format": "d", "title": "R, p.p.s."}}}},
        {"data": {"name": "smooth"}, "transform": [{"filter": "datum.p == 7"}],
         "mark": {"type": "line", "color": "black", "strokeWidth": 2.4, "clip": true},
         "encoding": {
           "x": {"field": "t", "type": "quantitative", "axis": {"orient": "top", "values": [420,480,540,600,660,720,780,840,900], "labels": false, "title": null}},
           "y": {"field": "v", "type": "quantitative", "axis": {"orient": "right", "values": [2, 3], "labels": false, "title": null}}}},
        {"data": {"name": "ref"}, "transform": [{"filter": "datum.p == 7 && datum.k == 'm'"}],
         "mark": {"type": "rule", "color": "black", "strokeWidth": 1, "strokeDash": [1.5, 2.5]},
         "encoding": {"y": {"field": "v", "type": "quantitative", "axis": null}}},
        {"data": {"name": "ref"}, "transform": [{"filter": "datum.p == 7"}],
         "mark": {"type": "rule", "color": "red", "strokeWidth": 1, "strokeDash": [4, 2]},
         "encoding": {
           "x": {"datum": 450, "axis": {"orient": "bottom", "values": [400,440,460,500,520,560,580,620,640,680,700,740,760,800,820,860,880,920], "labels": false, "title": null, "tickSize": -2}},
           "x2": {"datum": 597},
           "y": {"field": "v", "type": "quantitative", "axis": null}}},
        {"data": {"values": [{}]}, "mark": {"type": "rule", "color": "#222222", "strokeWidth": 1},
         "encoding": {"x": {"datum": 610, "axis": {"orient": "top", "values": [400,440,460,500,520,560,580,620,640,680,700,740,760,800,820,860,880,920], "labels": false, "title": null, "tickSize": -2}}}},
        {"data": {"values": [{}]}, "mark": {"type": "text", "align": "left", "baseline": "middle", "fontSize": 12},
         "encoding": {"x": {"datum": 741, "axis": null}, "y": {"datum": 3.07, "axis": null}, "text": {"value": "MULT. 8, 9, 10"}}}
      ]
    }
  ]
}
